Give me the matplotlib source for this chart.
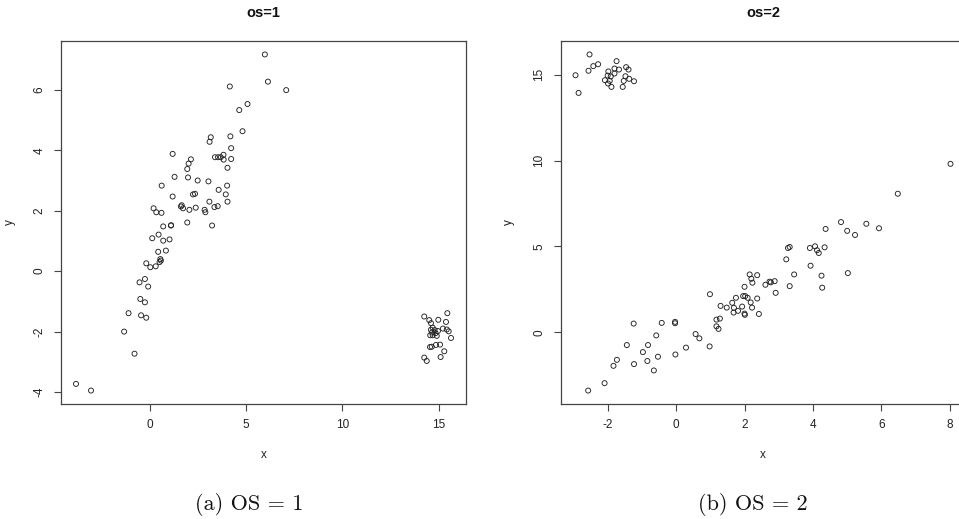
import matplotlib
matplotlib.use("Agg")
import matplotlib.pyplot as plt
import numpy as np

plt.rcParams['font.family'] = ['Liberation Sans', 'DejaVu Sans']
plt.rcParams['mathtext.fontset'] = 'cm'

# ---- data: panel (a) os=1 ----
x1 = [5.97, 6.13, 7.08, 4.15, 4.64, 5.07, 4.81, 3.16, 3.10, 4.18, 4.22, 1.18, 2.13, 2.01,
      1.94, 3.38, 3.54, 3.68, 3.82, 3.83, 4.22, 4.03, 1.28, 1.98, 2.48, 3.04, 0.61, 4.01,
      3.57, 3.94, 1.18, 2.24, 2.34, 3.09, 4.03, 1.65, 1.61, 1.72, 2.05, 2.38, 2.84, 2.88,
      3.35, 3.52, 0.19, 0.33, 0.60, 1.94, 3.23, 0.69, 1.09, 1.10, 0.12, 0.45, 0.69, 1.02,
      0.43, 0.83, 0.54, 0.57, 0.50, -0.19, 0.02, 0.30, -0.54, -0.26, -0.09, -0.50, -0.26,
      -1.11, -0.46, -0.19, -1.34, -0.80, -3.84, -3.06,
      14.25, 14.51, 14.98, 15.45, 15.38, 14.60, 15.22, 15.42, 15.52, 15.64, 14.69, 14.60,
      14.79, 14.65, 14.84, 14.90, 14.69, 14.56, 14.96, 14.55, 14.64, 14.86, 15.07, 15.29,
      15.10, 14.25, 14.38]
y1 = [7.17, 6.27, 5.99, 6.11, 5.33, 5.53, 4.63, 4.43, 4.28, 4.46, 4.07, 3.88, 3.70, 3.56,
      3.38, 3.77, 3.77, 3.77, 3.85, 3.69, 3.71, 3.42, 3.12, 3.10, 3.00, 2.97, 2.83, 2.83,
      2.69, 2.54, 2.47, 2.54, 2.56, 2.30, 2.30, 2.18, 2.14, 2.08, 2.03, 2.10, 2.03, 1.95,
      2.12, 2.15, 2.08, 1.95, 1.93, 1.61, 1.51, 1.48, 1.51, 1.52, 1.09, 1.21, 1.01, 1.05,
      0.64, 0.68, 0.40, 0.35, 0.30, 0.26, 0.13, 0.16, -0.37, -0.26, -0.51, -0.92, -1.03,
      -1.39, -1.46, -1.54, -2.00, -2.73, -3.73, -3.95,
      -1.50, -1.62, -1.61, -1.39, -1.68, -1.72, -1.90, -1.93, -1.99, -2.21, -1.87, -1.94,
      -1.95, -2.03, -2.05, -2.14, -2.12, -2.12, -1.98, -2.51, -2.50, -2.44, -2.43, -2.65,
      -2.84, -2.86, -2.97]

# ---- data: panel (b) os=2 ----
x2 = [-2.94, -2.85, -2.53, -2.56, -2.42, -2.28, -1.74, -1.80, -1.67, -1.98, -2.00, -2.08,
      -1.91, -1.80, -1.94, -1.99, -1.89, -1.56, -1.53, -1.48, -1.46, -1.39, -1.37, -1.23,
      8.02, 6.48, 4.82, 5.00, 5.23, 5.56, 5.93, 4.37, 3.91, 4.06, 4.12, 4.17, 4.34, 3.27,
      3.32, 3.22, 3.93, 4.25, 4.27, 5.02, 3.45, 3.32, 2.91, 2.88, 2.77, 2.73, 2.61, 2.37,
      2.15, 2.20, 2.23, 2.00, 1.96, 2.02, 2.09, 2.37, 2.18, 2.22, 2.42, 2.00, 2.01, 1.75,
      1.64, 1.69, 1.93, 1.48, 1.30, 1.68, 1.81, 0.99, 1.28, 1.18, 1.18, 1.24, 0.57, 0.68,
      0.98, 0.29, -0.02, -0.03, -0.03, -0.42, -0.58, -1.24, -1.44, -0.82, -0.97, -0.53,
      -0.84, -0.65, -1.23, -1.73, -1.83, -2.09, -2.57]
y2 = [14.97, 13.94, 16.18, 15.23, 15.50, 15.61, 15.79, 15.36, 15.30, 15.19, 14.95, 14.68,
      14.90, 15.07, 14.64, 14.49, 14.29, 14.29, 14.64, 14.91, 15.44, 15.30, 14.76, 14.62,
      9.81, 8.07, 6.42, 5.91, 5.67, 6.32, 6.06, 6.02, 4.91, 5.01, 4.78, 4.62, 4.95, 4.91,
      4.97, 4.25, 3.88, 3.30, 2.60, 3.45, 3.37, 2.69, 2.30, 2.98, 2.91, 2.95, 2.77, 3.33,
      3.37, 3.12, 2.89, 2.65, 2.11, 2.11, 2.01, 1.97, 1.74, 1.44, 1.07, 1.09, 1.02, 2.01,
      1.72, 1.43, 1.50, 1.44, 1.54, 1.15, 1.25, 2.22, 0.80, 0.74, 0.35, 0.20, -0.10, -0.35,
      -0.82, -0.89, -1.29, 0.61, 0.53, 0.55, -0.18, 0.51, -0.74, -0.74, -1.15, -1.42,
      -1.67, -2.22, -1.85, -1.60, -1.95, -2.96, -3.39]

titles = ["os=1", "os=2"]
captions = ["(a) OS = 1", "(b) OS = 2"]
xticks = [[0, 5, 10, 15], [-2, 0, 2, 4, 6, 8]]
yticks = [[-4, -2, 0, 2, 4, 6], [0, 5, 10, 15]]

W, H = 959, 519
fig = plt.figure(figsize=(W / 100, H / 100), dpi=100)

def rlim(v):
    lo, hi = min(v), max(v)
    r = hi - lo
    return lo - 0.04 * r, hi + 0.04 * r

panels = [(x1, y1), (x2, y2)]
lefts = [61, 560.5]
ax_w = 405
ax_top, ax_bot = 41, 404
edge = '#444444'
txtc = '#222222'

for i, (xs, ys) in enumerate(panels):
    ax = fig.add_axes([lefts[i] / W, (H - ax_bot) / H, ax_w / W, (ax_bot - ax_top) / H])
    ax.scatter(xs, ys, s=13, facecolors='none', edgecolors='#222222', linewidths=0.65)
    ax.set_xlim(*rlim(xs))
    ax.set_ylim(*rlim(ys))
    ax.set_xticks(xticks[i])
    ax.set_yticks(yticks[i])
    ax.set_xticklabels([str(t) for t in xticks[i]])
    ax.set_yticklabels([str(t) for t in yticks[i]], rotation=90, va='center')
    ax.tick_params(axis='both', length=5, width=0.8, color=edge, labelsize=8.5,
                   labelcolor=txtc, pad=6)
    for sp in ax.spines.values():
        sp.set_color(edge)
        sp.set_linewidth(0.9)
    ax.set_xlabel('x', fontsize=8.5, color=txtc, labelpad=13)
    ax.set_ylabel('y', fontsize=8.5, color=txtc, labelpad=13)
    cx = (lefts[i] + ax_w / 2) / W
    fig.text(cx, 1 - 13 / H, titles[i], ha='center', va='center', fontsize=10.5,
             fontweight='bold', color='#111111')

cap_x = [249, 753]
for i in range(2):
    fig.text(cap_x[i] / W, 1 - 505 / H, captions[i], ha='center', va='center',
             fontsize=16, color='#111111', family=['cmr10', 'DejaVu Serif'])

fig.savefig('out.png', dpi=100)
